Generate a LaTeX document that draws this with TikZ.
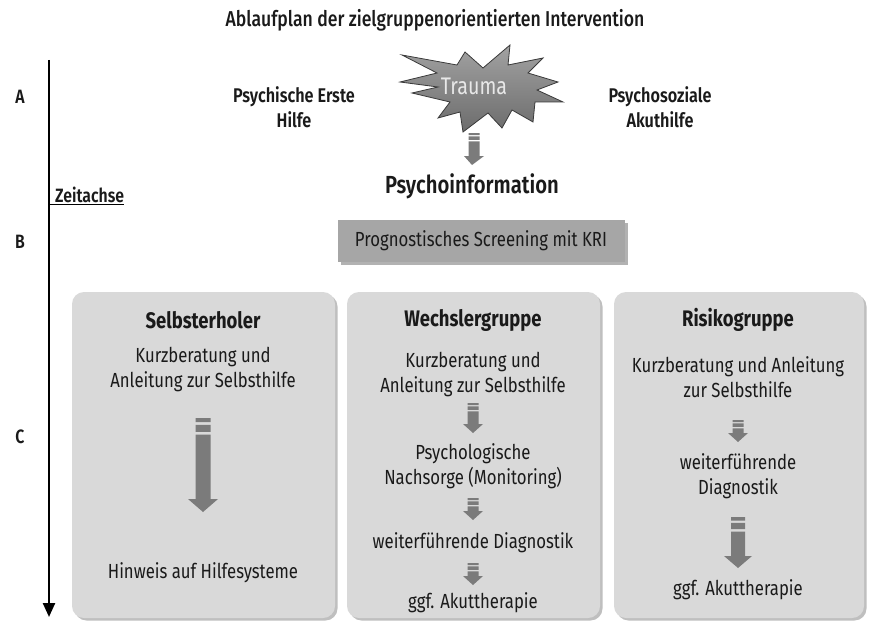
\documentclass[tikz,border=0pt]{standalone}
\usepackage{fontspec}
\setmainfont{Fira Sans}[FakeStretch=0.82]
\newfontfamily\semib{Fira Sans SemiBold}[FakeStretch=0.82]
\newfontfamily\medium{Fira Sans Medium}[FakeStretch=0.82]
\usetikzlibrary{arrows.meta,shadows,calc}

\definecolor{boxgray}{HTML}{D9D9D9}
\definecolor{screengray}{HTML}{A6A6A6}
\definecolor{arrgray}{HTML}{7B7B7B}
\definecolor{startop}{HTML}{A2A2A2}
\definecolor{starbot}{HTML}{6C6C6C}
\definecolor{stardark}{HTML}{3A3A3A}
\definecolor{traumatext}{HTML}{E8E8E8}
\definecolor{textdark}{HTML}{1A1A1A}

\tikzset{
  body/.style={font=\fontsize{20.4}{25}\selectfont, align=center, inner sep=0pt, text=textdark},
  grouptitle/.style={font=\fontsize{22.5}{25}\selectfont\bfseries, inner sep=0pt, text=textdark},
  semilabel/.style={font=\fontsize{19.8}{25}\selectfont\semib, align=center, inner sep=0pt, text=textdark},
  axislabel/.style={font=\fontsize{19.3}{22}\selectfont\semib, inner sep=0pt, text=textdark},
  groupbox/.style={rounded corners=12pt, fill=boxgray, draw=none, inner sep=0pt,
    drop shadow={shadow xshift=2.5pt, shadow yshift=-2.5pt, fill=black, opacity=0.25}},
  screenbox/.style={fill=screengray, draw=none, inner sep=0pt,
    font=\fontsize{20.4}{25}\selectfont, text=textdark,
    drop shadow={shadow xshift=3pt, shadow yshift=-3pt, fill=black, opacity=0.3}},
}

% block arrow with two header bars:
% #1 from node, #2 start offset, #3 to node, #4 end offset,
% #5 half shaft, #6 half head, #7 head length, #8 bar unit
\newcommand{\blockarrowgen}[8]{%
  \fill[arrgray] let \p1=($(#1)+(0,#2)$), \p2=($(#3)+(0,-#4)$) in
    (\x1-#5pt,\y1) rectangle (\x1+#5pt,\y1-#8pt)
    (\x1-#5pt,\y1-1.7*#8pt) rectangle (\x1+#5pt,\y1-3.45*#8pt)
    (\x1-#5pt,\y1-4.15*#8pt) -- (\x1-#5pt,\y2+#7pt) -- (\x1-#6pt,\y2+#7pt)
    -- (\x2,\y2) -- (\x1+#6pt,\y2+#7pt) -- (\x1+#5pt,\y2+#7pt)
    -- (\x1+#5pt,\y1-4.15*#8pt) -- cycle;}
\newcommand{\smallarrow}[4]{\blockarrowgen{#1}{#2}{#3}{#4}{5.5}{10}{9}{2}}
\newcommand{\bigarrow}[4]{\blockarrowgen{#1}{#2}{#3}{#4}{7.5}{15}{13}{4}}

\begin{document}
\begin{tikzpicture}[x=1pt, y=-1pt]
\useasboundingbox (0,0) rectangle (869,623);

% heading
\node[font=\fontsize{21.5}{25}\selectfont\medium, inner sep=0pt, text=textdark] (title) at (435,20) {Ablaufplan der zielgruppenorientierten Intervention};

% time axis
\coordinate (axtop) at (49,60);
\coordinate (axend) at (49,617);
\draw[line width=2.4pt, -{Triangle[length=14pt,width=12pt]}] (axtop) -- (axend);
\node[axislabel] (la) at (20,97) {A};
\node[axislabel] (lb) at (20,242) {B};
\node[axislabel] (lc) at (20,437) {C};
\node[axislabel, anchor=base west] (zeit) at (55,202) {Zeitachse};
\coordinate (ul) at ($(zeit.base east)+(0,2.5)$);
\draw[line width=1.1pt] (ul -| axtop) -- (ul);

% trauma burst
\draw[draw=stardark, line width=0.8pt, top color=startop, bottom color=starbot]
  (402,55) -- (457,65) -- (465,52) -- (483,68) -- (510,45) -- (508,65)
  -- (543,58) -- (528,73) -- (558,82) -- (537,90) -- (563,102) -- (535,102)
  -- (533,122) -- (512,110) -- (502,128) -- (488,113) -- (463,132) -- (460,112)
  -- (438,118) -- (450,102) -- (412,93) -- (438,87) -- (400,82) -- (437,73) -- cycle;
\node[font=\fontsize{24}{26}\selectfont, text=traumatext, inner sep=0pt] (trauma) at (474,86) {Trauma};

\node[semilabel] (erste) at (294,107) {Psychische Erste\\Hilfe};
\node[semilabel] (akut) at (660,107) {Psychosoziale\\Akuthilfe};

\node[font=\fontsize{24.7}{28}\selectfont\semib, inner sep=0pt, text=textdark] (pinfo) at (472,186) {Psychoinformation};
\smallarrow{trauma}{47}{pinfo}{21}

% screening
\node[screenbox, minimum width=287pt, minimum height=42pt] (screen) at (481,241) {Prognostisches Screening mit KRI};

% group panels
\node[groupbox, minimum width=263pt, minimum height=326pt] (g1) at (203.5,455) {};
\node[groupbox, minimum width=253pt, minimum height=326pt] (g2) at (473.5,455) {};
\node[groupbox, minimum width=250pt, minimum height=326pt] (g3) at (739,455) {};

% Selbsterholer
\node[grouptitle] (s0) at (203,320) {Selbsterholer};
\node[body] (s1) at (203,370) {Kurzberatung und\\Anleitung zur Selbsthilfe};
\node[body] (s2) at (203,573) {Hinweis auf Hilfesysteme};
\bigarrow{s1}{48}{s2}{61}

% Wechslergruppe
\node[grouptitle] (w0) at (473,320) {Wechslergruppe};
\node[body] (w1) at (473,375) {Kurzberatung und\\Anleitung zur Selbsthilfe};
\node[body] (w2) at (473,466) {Psychologische\\Nachsorge (Monitoring)};
\node[body] (w3) at (473,543) {weiterführende Diagnostik};
\node[body] (w4) at (473,603) {ggf. Akuttherapie};
\smallarrow{w1}{28}{w2}{33}
\smallarrow{w2}{32}{w3}{23}
\smallarrow{w3}{20}{w4}{18}

% Risikogruppe
\node[grouptitle] (r0) at (738,320) {Risikogruppe};
\node[body] (r1) at (738,377) {Kurzberatung und Anleitung\\zur Selbsthilfe};
\node[body] (r2) at (738,476) {weiterführende\\Diagnostik};
\node[body] (r3) at (738,590) {ggf. Akuttherapie};
\smallarrow{r1}{43}{r2}{34}
\blockarrowgen{r2}{41}{r3}{22}{7}{14}{12}{3.5}
\end{tikzpicture}
\end{document}
